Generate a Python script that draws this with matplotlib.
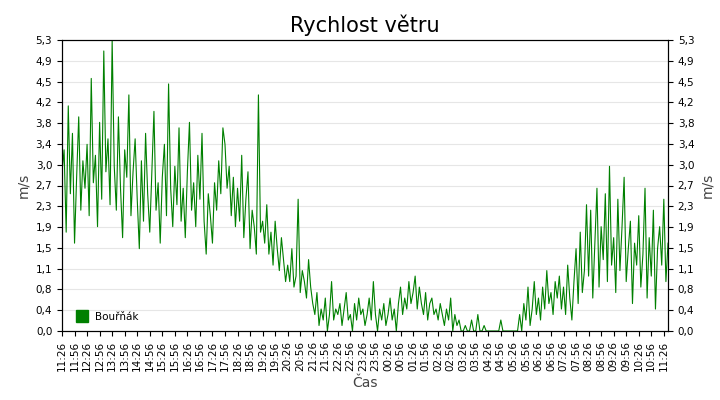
import matplotlib
matplotlib.use("Agg")
import matplotlib.pyplot as plt
from matplotlib.lines import Line2D

start_min = 11*60 + 26
step_min = 5
speed = [
 2.9,3.3,1.8,4.1,2.5,3.6,1.6,2.8,3.9,2.2,3.1,2.6,
 3.4,2.1,4.6,2.7,3.2,1.9,3.8,2.4,5.1,2.9,3.5,2.3,
 5.3,3.0,2.2,3.9,2.6,1.7,3.3,2.8,4.3,2.1,2.9,3.5,
 2.4,1.5,3.1,2.0,3.6,2.5,1.8,2.9,4.0,2.2,2.7,1.6,
 2.8,3.4,2.1,4.5,2.6,1.9,3.0,2.3,3.7,2.0,2.6,1.7,
 2.9,3.8,2.2,2.7,1.9,3.2,2.4,3.6,2.0,1.4,2.5,2.1,
 1.6,2.7,2.2,3.1,2.5,3.7,3.4,2.6,3.0,2.1,2.8,1.9,
 2.6,2.0,3.2,1.7,2.4,2.9,1.5,2.2,1.9,1.4,4.3,1.8,
 2.0,1.6,2.3,1.4,1.8,1.2,2.0,1.5,1.1,1.7,1.3,0.9,
 1.2,0.9,1.5,0.8,1.0,2.4,0.7,1.1,0.9,0.6,1.3,0.8,
 0.5,0.3,0.7,0.1,0.4,0.2,0.6,0.0,0.3,0.9,0.2,0.4,
 0.3,0.5,0.1,0.4,0.7,0.2,0.3,0.0,0.5,0.2,0.6,0.3,
 0.4,0.1,0.3,0.6,0.2,0.9,0.3,0.0,0.4,0.2,0.5,0.1,
 0.3,0.6,0.2,0.4,0.0,0.5,0.8,0.3,0.6,0.4,0.9,0.5,
 0.7,1.0,0.4,0.8,0.5,0.3,0.7,0.2,0.5,0.6,0.3,0.4,
 0.2,0.5,0.3,0.1,0.4,0.2,0.6,0.0,0.3,0.1,0.2,0.0,
 0.0,0.1,0.0,0.0,0.2,0.0,0.0,0.3,0.0,0.0,0.1,0.0,
 0.0,0.0,0.0,0.0,0.0,0.0,0.2,0.0,0.0,0.0,0.0,0.0,
 0.0,0.0,0.0,0.3,0.0,0.5,0.2,0.8,0.1,0.4,0.9,0.3,
 0.6,0.2,0.8,0.4,1.1,0.5,0.7,0.3,0.9,0.6,1.0,0.4,
 0.8,0.3,1.2,0.6,0.2,0.9,1.5,0.5,1.8,0.7,1.1,2.3,
 1.0,2.2,0.6,1.6,2.6,0.8,1.9,1.3,2.5,0.9,3.0,1.2,
 1.7,0.7,2.4,1.1,1.9,2.8,0.9,1.5,2.0,0.5,1.6,1.2,
 2.1,0.8,1.4,2.6,0.6,1.7,1.0,2.2,0.4,1.5,1.9,1.2,
 2.4,0.9,1.6]
ytick_vals = [i*5.3/14 for i in range(15)]
ytick_labels = ["0,0","0,4","0,8","1,1","1,5","1,9","2,3","2,7","3,0","3,4","3,8","4,2","4,5","4,9","5,3"]

t = [i*step_min for i in range(len(speed))]
xticks = list(range(0, 24*60+1, 30))
xlabels = ["%02d:%02d" % (((start_min+m)//60) % 24, (start_min+m) % 60) for m in xticks]

fig = plt.figure(figsize=(7.2, 4), dpi=100)
ax = fig.add_axes([62/720, 69/400, 606/720, 291/400])
ax.plot(t, speed, color="#008000", lw=0.8)
ax.set_xlim(0, t[-1])
ax.set_ylim(0, 5.3)
ax.set_yticks(ytick_vals)
ax.set_yticklabels(ytick_labels, fontsize=7.5)
ax.set_xticks(xticks)
ax.set_xticklabels(xlabels, rotation=90, fontsize=7.5)
ax.grid(axis="y", color="#e6e6e6", lw=0.8)
ax.set_axisbelow(True)
ax.set_ylabel("m/s", fontsize=10, color="#444444")
ax.set_xlabel("Čas", fontsize=10, color="#444444")
ax.set_title("Rychlost větru", fontsize=15)
ax2 = ax.twinx()
ax2.set_ylim(0, 5.3)
ax2.set_yticks(ytick_vals)
ax2.set_yticklabels(ytick_labels, fontsize=7.5)
ax2.set_ylabel("m/s", fontsize=10, color="#444444")
h = [Line2D([], [], marker="s", color="#008000", ls="none", markersize=8)]
ax.legend(h, ["Bouřňák"], loc="lower left", frameon=False, fontsize=7.5,
          handletextpad=0.3, bbox_to_anchor=(0, 0.0))
fig.savefig("out.png", dpi=100)
